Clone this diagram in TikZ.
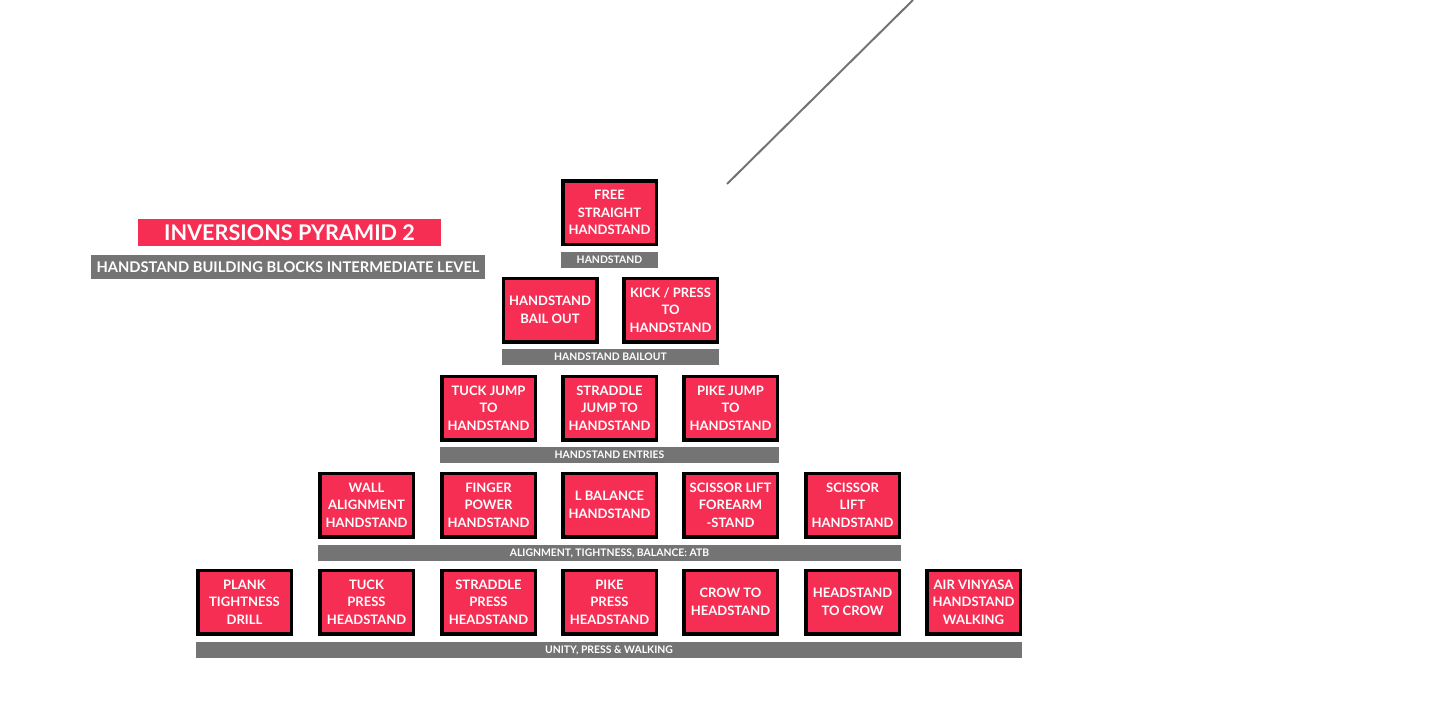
\documentclass[tikz,border=0pt]{standalone}
\usepackage{fontspec}
\setmainfont{Lato}
\definecolor{pk}{HTML}{F72E54}
\definecolor{gy}{HTML}{747474}
\definecolor{ln}{HTML}{737373}
\begin{document}
\begin{tikzpicture}[x=1pt,y=-1pt,
  blk/.style={draw=black,line width=3.5pt,fill=pk,minimum width=93.5pt,minimum height=63.5pt,inner sep=0pt,align=center,text=white,font=\bfseries\fontsize{13}{17.5}\selectfont},
  bar/.style={fill=gy,minimum height=16pt,inner sep=0pt,text=white,font=\bfseries\fontsize{10.4}{11}\selectfont},
]
\useasboundingbox (0,0) rectangle (1440,720);
% title
\node[fill=pk,minimum width=303pt,minimum height=27pt,inner sep=0pt,text=white,font=\bfseries\fontsize{21.6}{23}\selectfont] (title) at (289.5,232.5) {INVERSIONS PYRAMID 2};
\node[fill=gy,minimum width=394pt,minimum height=24pt,inner sep=0pt,text=white,font=\bfseries\fontsize{14.7}{16}\selectfont] (sub) at (288,267) {HANDSTAND BUILDING BLOCKS INTERMEDIATE LEVEL};
% line
\coordinate (l1) at (727,184);
\coordinate (l2) at (913,0);
\draw[ln,line width=2pt] (l1) -- (l2);
% row 1
\node[blk] (a1) at (609.5,212.5) {FREE\\STRAIGHT\\HANDSTAND};
\node[bar,minimum width=97pt] (b1) at (609.5,260) {HANDSTAND};
% row 2
\node[blk] (a21) at (550,310) {HANDSTAND\\BAIL OUT};
\node[blk] (a22) at (670.5,310) {KICK / PRESS\\TO\\HANDSTAND};
\node[bar,minimum width=217pt] (b2) at (610.5,357) {HANDSTAND BAILOUT};
% row 3
\node[blk] (a31) at (488.5,408) {TUCK JUMP\\TO\\HANDSTAND};
\node[blk] (a32) at (609.5,408) {STRADDLE\\JUMP TO\\HANDSTAND};
\node[blk] (a33) at (730.5,408) {PIKE JUMP\\TO\\HANDSTAND};
\node[bar,minimum width=339pt] (b3) at (609.5,455) {HANDSTAND ENTRIES};
% row 4
\node[blk] (a41) at (366.5,505) {WALL\\ALIGNMENT\\HANDSTAND};
\node[blk] (a42) at (488.5,505) {FINGER\\POWER\\HANDSTAND};
\node[blk] (a43) at (609.5,505) {L BALANCE\\HANDSTAND};
\node[blk] (a44) at (730.5,505) {SCISSOR LIFT\\FOREARM\\-STAND};
\node[blk] (a45) at (852.5,505) {SCISSOR\\LIFT\\HANDSTAND};
\node[bar,minimum width=583pt] (b4) at (609.5,553) {ALIGNMENT, TIGHTNESS, BALANCE: ATB};
% row 5
\node[blk] (a51) at (244.5,602) {PLANK\\TIGHTNESS\\DRILL};
\node[blk] (a52) at (366.5,602) {TUCK\\PRESS\\HEADSTAND};
\node[blk] (a53) at (488.5,602) {STRADDLE\\PRESS\\HEADSTAND};
\node[blk] (a54) at (609.5,602) {PIKE\\PRESS\\HEADSTAND};
\node[blk] (a55) at (730.5,602) {CROW TO\\HEADSTAND};
\node[blk] (a56) at (852.5,602) {HEADSTAND\\TO CROW};
\node[blk] (a57) at (973.5,602) {AIR VINYASA\\HANDSTAND\\WALKING};
\node[bar,minimum width=826pt] (b5) at (609,650) {UNITY, PRESS \& WALKING};
\end{tikzpicture}
\end{document}
